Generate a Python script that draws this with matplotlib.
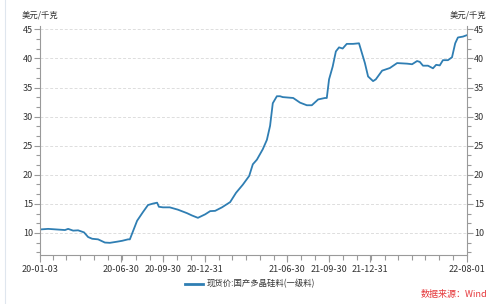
import matplotlib
matplotlib.use("Agg")
import matplotlib.pyplot as plt
import matplotlib.dates as mdates
from matplotlib.ticker import MultipleLocator, FixedLocator
from matplotlib.lines import Line2D
import pandas as pd

plt.rcParams['font.family'] = ['Noto Sans CJK SC', 'DejaVu Sans']

dates = ["2020-01-03", "2020-01-21", "2020-02-27", "2020-03-05", "2020-03-16", "2020-03-27",
         "2020-04-09", "2020-04-18", "2020-04-27", "2020-05-10", "2020-05-25", "2020-06-05",
         "2020-06-21", "2020-07-02", "2020-07-15", "2020-07-19", "2020-08-04", "2020-08-17",
         "2020-08-28", "2020-09-08", "2020-09-17", "2020-09-21", "2020-09-30", "2020-10-15",
         "2020-11-02", "2020-11-22", "2020-12-03", "2020-12-16", "2021-01-01", "2021-01-12",
         "2021-01-23", "2021-02-07", "2021-02-25", "2021-03-10", "2021-03-25", "2021-04-08",
         "2021-04-16", "2021-04-25", "2021-05-08", "2021-05-17", "2021-05-24", "2021-05-30",
         "2021-06-08", "2021-06-15", "2021-06-21", "2021-07-14", "2021-07-29", "2021-08-13",
         "2021-08-24", "2021-09-07", "2021-09-22", "2021-09-26", "2021-10-01", "2021-10-09",
         "2021-10-16", "2021-10-23", "2021-10-31", "2021-11-09", "2021-11-23", "2021-12-06",
         "2021-12-19", "2021-12-26", "2022-01-06", "2022-01-12", "2022-01-26", "2022-02-12",
         "2022-02-28", "2022-03-22", "2022-04-02", "2022-04-13", "2022-04-19", "2022-04-26",
         "2022-05-07", "2022-05-18", "2022-05-25", "2022-06-02", "2022-06-09", "2022-06-20",
         "2022-06-29", "2022-07-06", "2022-07-12", "2022-07-23", "2022-08-01"]
prices = [10.6, 10.7, 10.5, 10.7, 10.4, 10.45,
          10.1, 9.3, 9.0, 8.9, 8.35, 8.3,
          8.5, 8.65, 8.9, 8.9, 12.1, 13.6,
          14.8, 15.05, 15.2, 14.5, 14.4, 14.4,
          14.0, 13.4, 13.0, 12.6, 13.2, 13.75,
          13.8, 14.4, 15.3, 16.9, 18.3, 19.8,
          21.8, 22.6, 24.4, 26.0, 28.4, 32.3,
          33.5, 33.5, 33.35, 33.2, 32.4, 31.95,
          31.95, 32.95, 33.2, 33.2, 36.4, 38.6,
          41.2, 41.9, 41.7, 42.5, 42.5, 42.6,
          39.2, 36.9, 36.1, 36.4, 37.9, 38.35,
          39.2, 39.1, 39.0, 39.55, 39.4, 38.75,
          38.75, 38.3, 38.9, 38.8, 39.7, 39.7,
          40.2, 42.6, 43.6, 43.75, 44.0]
tick_dates = ["2020-01-03", "2020-06-30", "2020-09-30", "2020-12-31",
              "2021-06-30", "2021-09-30", "2021-12-31", "2022-08-01"]
tick_labels = ["20-01-03", "20-06-30", "20-09-30", "20-12-31",
               "21-06-30", "21-09-30", "21-12-31", "22-08-01"]
series_name = "现货价:国产多晶硅料(一级料)"
unit = "美元/千克"

x = pd.to_datetime(dates)
line_color = "#2f7eb3"
axis_color = "#9a9a9a"
text_color = "#333333"

fig = plt.figure(figsize=(5, 3.04), dpi=100)
ax = fig.add_axes([0.08, 0.161, 0.854, 0.754])
ax.plot(x, prices, color=line_color, lw=1.3)

ax.set_xlim(pd.Timestamp(tick_dates[0]), pd.Timestamp(tick_dates[-1]))
ax.set_ylim(6.2, 45.6)

ax.xaxis.set_major_locator(FixedLocator(mdates.date2num(pd.to_datetime(tick_dates))))
ax.xaxis.set_major_formatter(plt.FixedFormatter(tick_labels))
ax.xaxis.set_minor_locator(mdates.MonthLocator())
ax.yaxis.set_major_locator(MultipleLocator(5))
ax.yaxis.set_minor_locator(MultipleLocator(5 / 3))

ax.grid(axis='y', which='major', color="#dddddd", ls=(0, (3, 2)), lw=0.7)
for s in ['top']:
    ax.spines[s].set_visible(False)
for s in ['left', 'right', 'bottom']:
    ax.spines[s].set_color(axis_color)
    ax.spines[s].set_linewidth(0.8)

ax.tick_params(axis='y', which='both', left=True, right=True, labelleft=True, labelright=True,
               colors=axis_color, labelcolor=text_color, labelsize=6.5, pad=1)
ax.tick_params(axis='y', which='major', length=4, width=0.8)
ax.tick_params(axis='y', which='minor', length=3, width=0.8)
ax.tick_params(axis='x', which='major', length=5, width=0.8, colors=axis_color,
               labelcolor=text_color, labelsize=6.5, pad=2)
ax.tick_params(axis='x', which='minor', length=3.5, width=0.8, colors=axis_color)

fig.text(0.044, 0.95, unit, fontsize=6, color=text_color, va='center', ha='left')
fig.text(0.972, 0.95, unit, fontsize=6, color=text_color, va='center', ha='right')

handle = Line2D([], [], color=line_color, lw=2)
fig.legend([handle], [series_name], loc='center', bbox_to_anchor=(0.5, 0.066), frameon=False,
           fontsize=6, handlelength=2.2, handletextpad=0.4, labelcolor=text_color)

fig.text(0.974, 0.03, "数据来源：Wind", fontsize=6.5, color="#e5383b", ha='right', va='center')

fig.add_artist(Line2D([0.01, 0.01], [0.0, 1.0], color="#dfe6ee", lw=0.8, transform=fig.transFigure))

fig.savefig("out.png", dpi=100)
